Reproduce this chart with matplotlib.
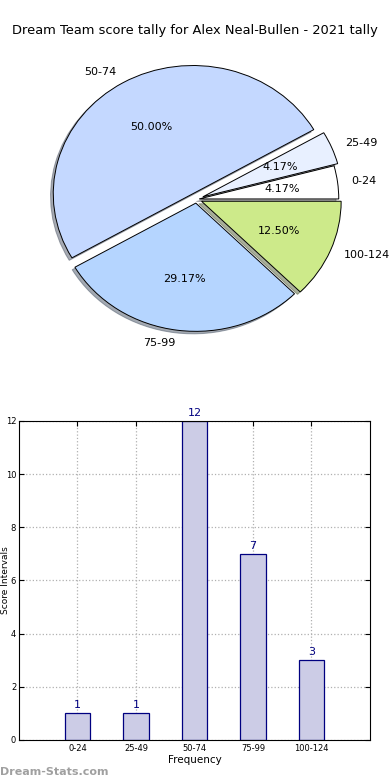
import matplotlib
matplotlib.use("Agg")
import matplotlib.pyplot as plt
import numpy as np

bins = ["0-24", "25-49", "50-74", "75-99", "100-124"]
counts = [1, 1, 12, 7, 3]
pie_colors = ["#ffffff", "#e8f0ff", "#c4d8ff", "#b5d5ff", "#cdea8a"]
explode = [0.02, 0.05, 0.05, 0.03, 0.04]

fig = plt.figure(figsize=(3.9, 7.8), dpi=100)
fig.text(0.5, 0.961, "Dream Team score tally for Alex Neal-Bullen - 2021 tally",
         ha="center", va="center", fontsize=9.35)

# pie
ax1 = fig.add_axes([0.056, 0.539, 0.895, 0.411])
wedges, texts, autotexts = ax1.pie(counts, labels=bins, colors=pie_colors, explode=explode,
                                   autopct="%.2f%%", shadow=dict(ox=-0.014, oy=-0.014, shade=0.6),
                                   startangle=0,
                                   wedgeprops=dict(edgecolor="black", linewidth=0.7),
                                   textprops=dict(fontsize=8))
ax1.set_aspect("auto")

# bars
ax2 = fig.add_axes([0.0487, 0.0513, 0.9, 0.409])
x = np.arange(len(bins))
ax2.bar(x, counts, width=0.44, color="#ccccE6", edgecolor="#000080", linewidth=0.9, zorder=2)
for xi, c in zip(x, counts):
    ax2.text(xi, c + 0.12, str(c), ha="center", va="bottom", color="#000080", fontsize=8)
ax2.set_xlim(-1, 5)
ax2.set_ylim(0, 12)
ax2.set_xticks(x)
ax2.set_xticklabels(bins, fontsize=6)
ax2.set_yticks(range(0, 13, 2))
ax2.tick_params(axis="y", labelsize=6, direction="in", right=True, pad=2)
ax2.tick_params(axis="x", direction="in", top=True, pad=3)
ax2.grid(True, linestyle=":", color="#b0b0b0", linewidth=0.9, zorder=0)
ax2.set_xlabel("Frequency", fontsize=7.5, labelpad=1)
ax2.set_ylabel("Score Intervals", fontsize=6.5)
ax2.yaxis.set_label_coords(-0.027, 0.5)

fig.text(0.0, 0.004, "Dream-Stats.com", color="#a0a0a0", fontsize=8, fontweight="bold",
         ha="left", va="bottom")

fig.savefig("out.png", dpi=100)
